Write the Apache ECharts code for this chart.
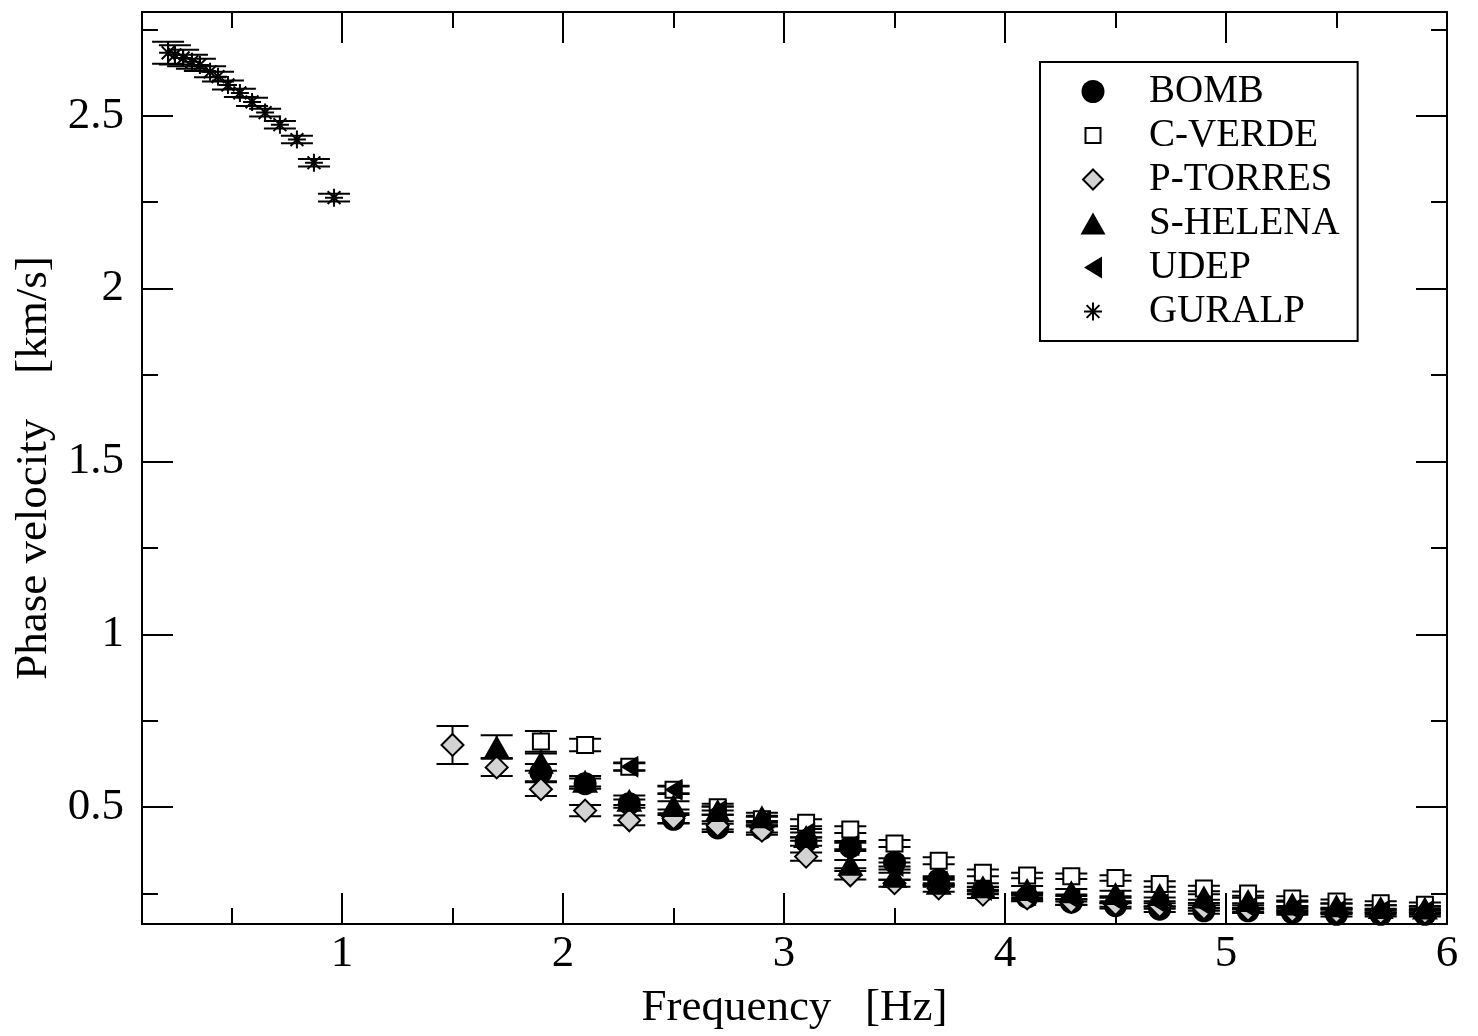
<!DOCTYPE html>
<html>
<head>
<meta charset="utf-8">
<script src="https://cdn.jsdelivr.net/npm/echarts@6/dist/echarts.min.js"></script>
<style>
  html, body { margin: 0; padding: 0; background: #fff; }
  #chart { width: 1478px; height: 1036px; }
</style>
</head>
<body>
<div id="chart"></div>
<script>
// Rayleigh-wave phase velocity dispersion curves per station (with 1-sigma errors)
const FONT = '"Liberation Serif", "Times New Roman", serif';

// Tick positions
const xMajorTicks = [1, 2, 3, 4, 5, 6];
const xMinorTicks = [0.5, 1.5, 2.5, 3.5, 4.5, 5.5];
const yMajorTicks = [0.5, 1, 1.5, 2, 2.5];
const yMinorTicks = [0.25, 0.75, 1.25, 1.75, 2.25, 2.75];

const stationNames = ['BOMB', 'C-VERDE', 'P-TORRES', 'S-HELENA', 'UDEP', 'GURALP'];

// BOMB
const bombFreq = [1.9, 2.1, 2.3, 2.5, 2.7, 2.9, 3.1, 3.3, 3.5, 3.7, 3.9, 4.1, 4.3, 4.5, 4.7, 4.9, 5.1, 5.3, 5.5, 5.7, 5.9];
const bombVel  = [0.600, 0.568, 0.510, 0.465, 0.440, 0.437, 0.400, 0.385, 0.340, 0.290, 0.258, 0.240, 0.225, 0.215, 0.205, 0.200, 0.200, 0.195, 0.190, 0.190, 0.190];
const bombErr  = [0.025, 0.015, 0.012, 0.012, 0.012, 0.010, 0.012, 0.012, 0.012, 0.010, 0.010, 0.008, 0.008, 0.008, 0.008, 0.008, 0.006, 0.006, 0.006, 0.006, 0.006];

// C-VERDE
const cverdeFreq = [1.9, 2.1, 2.3, 2.5, 2.7, 2.9, 3.1, 3.3, 3.5, 3.7, 3.9, 4.1, 4.3, 4.5, 4.7, 4.9, 5.1, 5.3, 5.5, 5.7, 5.9];
const cverdeVel  = [0.690, 0.680, 0.617, 0.550, 0.500, 0.465, 0.455, 0.435, 0.395, 0.345, 0.310, 0.302, 0.300, 0.295, 0.278, 0.265, 0.250, 0.236, 0.227, 0.222, 0.218];
const cverdeErr  = [0.030, 0.018, 0.010, 0.010, 0.010, 0.010, 0.010, 0.010, 0.010, 0.010, 0.010, 0.008, 0.008, 0.008, 0.008, 0.008, 0.006, 0.006, 0.006, 0.006, 0.006];

// P-TORRES
const ptorresFreq = [1.5, 1.7, 1.9, 2.1, 2.3, 2.5, 2.7, 2.9, 3.1, 3.3, 3.5, 3.7, 3.9, 4.1, 4.3, 4.5, 4.7, 4.9, 5.1, 5.3, 5.5, 5.7, 5.9];
const ptorresVel  = [0.680, 0.615, 0.552, 0.490, 0.462, 0.468, 0.447, 0.432, 0.357, 0.303, 0.280, 0.265, 0.247, 0.236, 0.226, 0.220, 0.214, 0.208, 0.203, 0.200, 0.197, 0.195, 0.195];
const ptorresErr  = [0.055, 0.025, 0.020, 0.016, 0.014, 0.014, 0.012, 0.012, 0.012, 0.012, 0.010, 0.010, 0.010, 0.008, 0.008, 0.008, 0.008, 0.008, 0.006, 0.006, 0.006, 0.006, 0.006];

// S-HELENA
const shelenaFreq = [1.7, 1.9, 2.1, 2.3, 2.5, 2.7, 2.9, 3.1, 3.3, 3.5, 3.7, 3.9, 4.1, 4.3, 4.5, 4.7, 4.9, 5.1, 5.3, 5.5, 5.7, 5.9];
const shelenaVel  = [0.675, 0.630, 0.575, 0.520, 0.505, 0.490, 0.472, 0.415, 0.335, 0.300, 0.280, 0.270, 0.262, 0.255, 0.250, 0.247, 0.240, 0.230, 0.220, 0.215, 0.210, 0.208];
const shelenaErr  = [0.033, 0.025, 0.015, 0.014, 0.012, 0.012, 0.012, 0.012, 0.012, 0.010, 0.010, 0.010, 0.010, 0.008, 0.008, 0.008, 0.008, 0.008, 0.006, 0.006, 0.006, 0.006];

// UDEP
const udepFreq = [2.3, 2.5, 2.7, 2.9, 3.1, 3.3, 3.5, 3.7, 3.9, 4.1, 4.3, 4.5, 4.7, 4.9, 5.1, 5.3, 5.5, 5.7, 5.9];
const udepVel  = [0.617, 0.550, 0.490, 0.460, 0.425, 0.390, 0.330, 0.285, 0.260, 0.245, 0.235, 0.230, 0.220, 0.215, 0.210, 0.205, 0.200, 0.200, 0.200];
const udepErr  = [0.012, 0.012, 0.012, 0.012, 0.012, 0.012, 0.010, 0.010, 0.010, 0.008, 0.008, 0.008, 0.008, 0.008, 0.006, 0.006, 0.006, 0.006, 0.006];

// GURALP (broadband, low frequencies)
const guralpFreq = [0.213, 0.244, 0.281, 0.321, 0.357, 0.403, 0.439, 0.484, 0.538, 0.593, 0.652, 0.719, 0.796, 0.873, 0.964];
const guralpVel  = [2.682, 2.676, 2.667, 2.656, 2.647, 2.627, 2.613, 2.589, 2.566, 2.540, 2.509, 2.474, 2.431, 2.364, 2.263];
const guralpErr  = [0.032, 0.028, 0.024, 0.020, 0.018, 0.016, 0.014, 0.013, 0.012, 0.012, 0.011, 0.011, 0.011, 0.011, 0.011];

const stationData = {
  'BOMB':     [bombFreq, bombVel, bombErr],
  'C-VERDE':  [cverdeFreq, cverdeVel, cverdeErr],
  'P-TORRES': [ptorresFreq, ptorresVel, ptorresErr],
  'S-HELENA': [shelenaFreq, shelenaVel, shelenaErr],
  'UDEP':     [udepFreq, udepVel, udepErr],
  'GURALP':   [guralpFreq, guralpVel, guralpErr]
};

// Marker appearance per station
const markerStyles = {
  'BOMB':     { symbol: 'circle', symbolSize: 23, itemStyle: { color: '#000', borderWidth: 0, opacity: 1 } },
  'C-VERDE':  { symbol: 'rect', symbolSize: 16, itemStyle: { color: '#fff', borderColor: '#000', borderWidth: 2, opacity: 1 } },
  'P-TORRES': { symbol: 'diamond', symbolSize: [22, 22], itemStyle: { color: '#d3d3d3', borderColor: '#000', borderWidth: 2, opacity: 1 } },
  'S-HELENA': { symbol: 'triangle', symbolSize: [26, 23], itemStyle: { color: '#000', borderWidth: 0, opacity: 1 } },
  'UDEP':     { symbol: 'path://M0,11 L18,0 L18,22 Z', symbolSize: [18, 22], itemStyle: { color: '#000', borderWidth: 0, opacity: 1 } },
  'GURALP':   { symbol: 'path://M9,0 L9,18 M0,9 L18,9 M2.6,2.6 L15.4,15.4 M15.4,2.6 L2.6,15.4', symbolSize: 18,
                itemStyle: { color: '#000', borderColor: '#000', borderWidth: 2, opacity: 1 } }
};

// Legend icons: each drawn inside an 87x26 box so the shapes keep their own sizes
const legendIcons = {
  'BOMB':     'path://M0,0 M87,26 M47.5,13 A11.5,11.5 0 1 1 24.5,13 A11.5,11.5 0 1 1 47.5,13 Z',
  'C-VERDE':  'path://M0,0 M87,26 M28.5,5.5 L43.5,5.5 L43.5,20.5 L28.5,20.5 Z',
  'P-TORRES': 'path://M0,0 M87,26 M36,3 L46,13 L36,23 L26,13 Z',
  'S-HELENA': 'path://M0,0 M87,26 M36,2 L48.5,24 L23.5,24 Z',
  'UDEP':     'path://M0,0 M87,26 M27,13 L45,2 L45,24 Z',
  'GURALP':   'path://M0,0 M87,26 M36,4 L36,22 M27,13 L45,13 M29.6,6.6 L42.4,19.4 M42.4,6.6 L29.6,19.4'
};

const CAP_HALF = 16;

function renderErrorBar(params, api) {
  const x = api.value(0), y = api.value(1), e = api.value(2);
  const hi = api.coord([x, y + e]);
  const lo = api.coord([x, y - e]);
  const style = { stroke: '#000', lineWidth: 2 };
  return {
    type: 'group',
    children: [
      { type: 'line', shape: { x1: hi[0], y1: hi[1], x2: lo[0], y2: lo[1] }, style: style },
      { type: 'line', shape: { x1: hi[0] - CAP_HALF, y1: hi[1], x2: hi[0] + CAP_HALF, y2: hi[1] }, style: style },
      { type: 'line', shape: { x1: lo[0] - CAP_HALF, y1: lo[1], x2: lo[0] + CAP_HALF, y2: lo[1] }, style: style }
    ]
  };
}

const series = [];
stationNames.forEach(function (name) {
  const d = stationData[name];
  const f = d[0], v = d[1], e = d[2];
  series.push({
    name: name + ' error',
    type: 'custom',
    renderItem: renderErrorBar,
    encode: { x: 0, y: 1 },
    data: f.map(function (fx, i) { return [fx, v[i], e[i]]; }),
    silent: true,
    clip: true
  });
  const m = markerStyles[name];
  series.push({
    name: name,
    type: 'scatter',
    symbol: m.symbol,
    symbolSize: m.symbolSize,
    itemStyle: m.itemStyle,
    data: f.map(function (fx, i) { return [fx, v[i]]; }),
    silent: true,
    emphasis: { disabled: true }
  });
});

const X_MIN = 0.095, X_MAX = 6;
const Y_MIN = 0.162, Y_MAX = 2.8;
const lineStyle = { color: '#000', width: 2 };
const labelText = { fontFamily: FONT, fontSize: 45, color: '#000' };

function tickAxis(kind, position, values, length, showLine) {
  return {
    type: 'value',
    position: position,
    min: kind === 'x' ? X_MIN : Y_MIN,
    max: kind === 'x' ? X_MAX : Y_MAX,
    axisLine: { show: showLine, onZero: false, lineStyle: lineStyle },
    axisTick: { show: true, inside: true, length: length, customValues: values, lineStyle: lineStyle },
    axisLabel: { show: false },
    splitLine: { show: false },
    minorTick: { show: false }
  };
}

const xMain = tickAxis('x', 'bottom', xMajorTicks, 31, true);
xMain.axisLabel = Object.assign({ show: true, margin: 8, customValues: xMajorTicks }, labelText);
xMain.name = 'Frequency   [Hz]';
xMain.nameLocation = 'middle';
xMain.nameGap = 62;
xMain.nameTextStyle = labelText;

const yMain = tickAxis('y', 'left', yMajorTicks, 31, true);
yMain.axisLabel = Object.assign({ show: true, margin: 18, customValues: yMajorTicks }, labelText);
yMain.name = 'Phase velocity    [km/s]';
yMain.nameLocation = 'middle';
yMain.nameGap = 84;
yMain.nameTextStyle = labelText;

const option = {
  animation: false,
  backgroundColor: '#fff',
  textStyle: { fontFamily: FONT },
  grid: { left: 142, top: 12, width: 1305, height: 914, containLabel: false },
  xAxis: [
    xMain,
    tickAxis('x', 'bottom', xMinorTicks, 16, false),
    tickAxis('x', 'top', xMajorTicks, 31, true),
    tickAxis('x', 'top', xMinorTicks, 16, false)
  ],
  yAxis: [
    yMain,
    tickAxis('y', 'left', yMinorTicks, 16, false),
    tickAxis('y', 'right', yMajorTicks, 31, true),
    tickAxis('y', 'right', yMinorTicks, 16, false)
  ],
  legend: {
    orient: 'vertical',
    left: 1040,
    top: 62,
    padding: [10, 18, 10, 16],
    itemWidth: 87,
    itemHeight: 26,
    itemGap: 5,
    align: 'left',
    borderColor: '#000',
    borderWidth: 2,
    backgroundColor: '#fff',
    selectedMode: false,
    textStyle: { fontFamily: FONT, fontSize: 39, color: '#000' },
    data: stationNames.map(function (name) {
      const st = markerStyles[name].itemStyle;
      return {
        name: name,
        icon: legendIcons[name],
        itemStyle: {
          color: st.color,
          borderColor: st.borderColor || '#000',
          borderWidth: st.borderWidth || 0,
          opacity: 1
        }
      };
    })
  },
  series: series
};

const chart = echarts.init(document.getElementById('chart'), null, { renderer: 'canvas' });
chart.setOption(option);
</script>
</body>
</html>
